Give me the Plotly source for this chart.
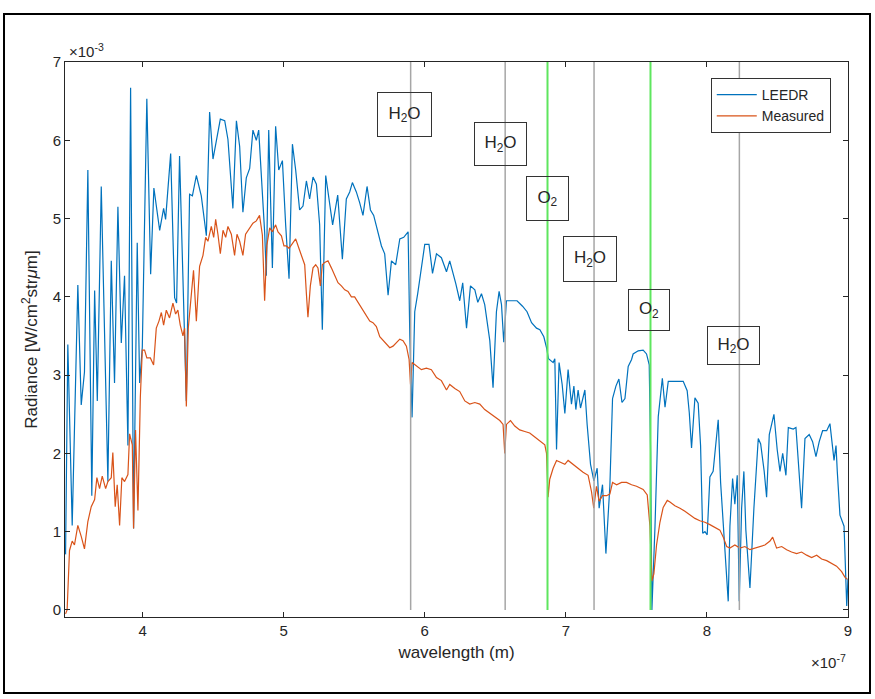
import plotly.graph_objects as go

# Wavelength in nm, radiance in 1e-3 W/cm^2/sr/um
leedr_wl = [345.4, 347.0, 350.1, 354.1, 356.5, 358.8, 361.2, 364.0, 366.0, 367.9, 370.7, 375.4, 377.8, 380.1,
            382.5, 384.9, 387.2, 389.6, 391.5, 393.6, 396.2, 397.9, 399.8, 403.0, 405.7, 408.0, 412.1, 414.9,
            416.3, 419.9, 422.7, 424.1, 426.2, 431.0, 433.3, 435.3, 438.1, 441.6, 445.2, 447.5, 449.9, 452.3,
            455.1, 458.2, 460.5, 464.0, 466.5, 468.8, 471.1, 473.5, 475.9, 478.2, 480.6, 482.3, 486.5, 487.7,
            489.4, 492.0, 494.3, 496.5, 499.1, 501.4, 503.8, 506.2, 508.5, 511.3, 513.7, 516.1, 518.4, 520.8,
            523.2, 525.5, 527.4, 529.8, 532.6, 534.7, 538.3, 541.6, 544.4, 546.8, 548.7, 551.5, 553.9, 556.2,
            559.1, 561.5, 563.8, 566.7, 569.3, 571.6, 574.0, 576.4, 579.4, 582.3, 585.1, 588.2, 589.4, 591.0,
            592.9, 595.0, 597.0, 600.0, 603.0, 605.5, 608.3, 611.8, 615.4, 617.7, 622.0, 624.8, 626.9, 629.6,
            632.4, 635.5, 637.6, 640.2, 642.5, 646.1, 648.4, 650.8, 652.7, 654.4, 656.0, 657.9, 661.5, 665.4,
            669.3, 672.5, 675.7, 679.2, 681.6, 684.4, 686.3, 687.7, 691.0, 692.2, 693.4, 695.2, 697.4, 699.3,
            701.6, 704.0, 705.7, 707.1, 708.7, 710.4, 713.5, 715.1, 717.5, 719.9, 722.2, 723.6, 726.0, 728.4,
            731.2, 733.1, 735.5, 737.6, 739.8, 741.9, 744.2, 746.6, 747.7, 751.3, 754.8, 757.2, 759.1, 760.1,
            761.0, 763.2, 765.5, 768.4, 770.3, 772.6, 776.2, 779.8, 783.2, 786.0, 787.5, 789.1, 791.5, 793.8,
            795.5, 797.0, 798.6, 800.2, 802.1, 804.4, 808.0, 809.7, 812.7, 815.1, 816.3, 818.2, 819.8, 821.5,
            822.9, 824.6, 826.2, 827.6, 830.5, 833.3, 836.4, 838.1, 840.6, 842.3, 844.2, 847.5, 849.8, 851.8,
            853.7, 856.0, 857.7, 861.2, 863.1, 865.5, 867.1, 869.5, 872.5, 874.9, 877.3, 879.6, 882.0, 884.9,
            887.2, 890.1, 891.5, 892.4, 894.3, 897.2, 899.1, 900.0]
leedr_rad = [0.71, 3.39, 1.08, 4.15, 2.62, 3.04, 5.62, 1.46, 4.08, 2.67, 5.41, 1.64, 4.46, 2.9,
             5.15, 3.41, 4.27, 2.1, 6.67, 1.04, 4.69, 2.9, 3.36, 6.53, 4.29, 5.39, 4.85, 5.13,
             4.99, 5.83, 3.99, 3.92, 5.8, 2.67, 5.31, 5.29, 5.55, 5.29, 4.78, 6.36, 5.76, 6.01,
             6.27, 6.25, 6.01, 5.13, 6.25, 5.92, 5.08, 5.52, 5.64, 6.13, 6.0, 6.13, 4.83, 4.27,
             6.13, 4.37, 6.18, 5.62, 5.74, 4.92, 4.23, 5.95, 5.62, 5.11, 5.16, 5.48, 5.25, 5.53,
             5.44, 4.92, 3.58, 5.55, 5.2, 4.92, 5.3, 4.48, 5.25, 5.34, 5.46, 5.34, 5.2, 5.04,
             5.41, 5.11, 5.04, 4.83, 4.65, 4.55, 4.02, 4.46, 4.41, 4.74, 4.76, 4.83, 3.5, 2.46,
             3.81, 4.04, 4.28, 4.67, 4.67, 4.3, 4.55, 4.5, 4.32, 4.46, 4.17, 3.95, 4.18, 3.6,
             4.14, 4.09, 3.93, 4.04, 3.9, 3.44, 2.84, 3.81, 4.07, 3.9, 3.42, 3.95, 3.95, 3.95,
             3.88, 3.81, 3.67, 3.6, 3.58, 3.49, 3.35, 3.21, 3.16, 3.21, 2.05, 3.16, 2.88, 2.51,
             3.07, 2.63, 2.86, 2.56, 2.81, 2.58, 2.81, 2.37, 1.86, 1.65, 1.81, 1.3, 1.6, 0.72,
             1.58, 2.7, 2.86, 2.95, 2.65, 2.7, 3.11, 3.2, 3.27, 3.31, 3.32, 3.27, 3.13, 2.0,
             0.0, 1.07, 2.47, 2.96, 2.59, 2.92, 2.92, 2.92, 2.92, 2.8, 2.52, 2.07, 2.71, 2.64,
             2.1, 0.98, 1.0, 0.96, 1.7, 1.77, 2.43, 1.63, 0.84, 0.11, 1.07, 1.68, 1.35, 1.72,
             0.11, 1.3, 1.77, 1.02, 0.28, 1.3, 2.19, 2.12, 1.77, 1.44, 2.24, 2.5, 2.05, 1.77,
             2.0, 1.72, 2.33, 2.31, 2.33, 1.77, 1.3, 2.19, 2.24, 2.15, 1.96, 2.15, 2.29, 2.29,
             2.38, 1.91, 2.1, 1.77, 1.21, 1.07, 0.05, 0.4]

meas_wl = [345.4, 346.5, 348.2, 350.1, 351.7, 354.1, 356.5, 358.8, 361.2, 363.6, 366.0, 367.6, 369.5, 371.4,
           373.8, 375.4, 377.8, 378.9, 380.6, 382.0, 383.7, 385.3, 387.2, 389.6, 390.8, 392.7, 393.6, 395.0,
           396.7, 398.4, 399.8, 401.4, 403.0, 405.5, 407.8, 409.7, 411.6, 413.3, 414.9, 416.8, 419.1, 421.5,
           423.4, 425.0, 426.7, 428.6, 429.8, 431.0, 432.4, 434.5, 436.1, 438.1, 440.4, 442.8, 444.7, 446.3,
           448.7, 450.4, 451.8, 453.4, 455.1, 457.0, 458.9, 460.5, 462.9, 465.2, 466.9, 468.8, 471.1, 473.0,
           475.9, 478.2, 480.6, 482.9, 484.9, 486.5, 488.1, 490.1, 492.0, 494.3, 496.0, 498.4, 500.2, 501.9,
           503.8, 506.2, 508.5, 510.8, 513.3, 514.9, 516.1, 517.2, 518.9, 520.8, 522.7, 524.3, 526.0, 527.4,
           529.1, 531.4, 533.8, 536.2, 538.5, 540.9, 543.3, 545.6, 548.0, 550.3, 552.7, 556.2, 558.6, 561.0,
           563.3, 565.7, 568.1, 570.4, 572.8, 575.2, 577.5, 579.9, 582.3, 584.6, 587.0, 588.9, 589.9, 591.0,
           594.1, 597.6, 601.2, 604.7, 608.3, 611.8, 615.4, 617.7, 621.3, 624.8, 628.4, 631.9, 635.5, 639.0,
           642.5, 646.1, 649.6, 653.2, 655.5, 656.7, 657.9, 660.8, 663.8, 667.3, 670.9, 674.4, 678.0, 681.5,
           685.1, 686.3, 687.4, 688.6, 691.0, 693.4, 696.9, 699.3, 701.6, 705.1, 708.7, 712.2, 715.8, 718.2,
           719.8, 721.7, 723.6, 726.0, 728.8, 731.2, 733.1, 736.0, 739.5, 743.0, 746.6, 750.1, 754.8, 757.7,
           759.6, 761.0, 762.4, 764.3, 766.7, 769.0, 771.9, 773.8, 777.3, 780.9, 784.4, 788.0, 791.5, 795.0,
           798.6, 802.1, 805.7, 809.2, 811.6, 814.0, 816.3, 819.8, 823.4, 826.9, 830.5, 834.0, 837.6, 841.1,
           844.7, 846.6, 849.4, 853.0, 856.5, 860.0, 863.6, 867.1, 870.7, 874.2, 877.8, 881.3, 884.9, 888.4,
           891.9, 895.5, 897.8, 899.5]
meas_rad = [-0.05, 0.0, 0.76, 0.88, 0.83, 1.08, 0.94, 0.78, 1.13, 1.32, 1.41, 1.69, 1.55, 1.71,
            1.55, 1.64, 1.69, 2.01, 1.32, 1.6, 1.08, 1.69, 1.64, 1.73, 2.25, 2.11, 1.04, 2.3,
            1.27, 2.72, 3.32, 3.32, 3.22, 3.22, 3.13, 3.6, 3.69, 3.8, 3.64, 3.83, 3.73, 3.92,
            3.78, 3.83, 3.64, 3.5, 3.6, 2.6, 3.6, 3.97, 4.34, 3.69, 4.39, 4.53, 4.76, 4.71,
            4.9, 4.76, 4.99, 4.8, 4.55, 4.85, 4.76, 4.9, 4.8, 4.53, 4.8, 4.71, 4.53, 4.8,
            4.88, 4.94, 4.97, 5.04, 4.79, 3.95, 4.66, 4.88, 4.83, 4.92, 4.83, 4.78, 4.65, 4.65,
            4.62, 4.69, 4.74, 4.62, 4.48, 4.41, 4.04, 3.74, 4.14, 4.37, 4.41, 4.37, 4.14, 4.41,
            4.44, 4.46, 4.37, 4.27, 4.18, 4.14, 4.09, 4.07, 4.0, 4.0, 3.93, 3.83, 3.76, 3.69,
            3.67, 3.62, 3.49, 3.44, 3.39, 3.35, 3.37, 3.41, 3.46, 3.44, 3.37, 3.2, 2.88, 3.16,
            3.12, 3.07, 3.09, 3.07, 2.97, 2.93, 2.81, 2.88, 2.83, 2.79, 2.67, 2.63, 2.65, 2.63,
            2.56, 2.51, 2.46, 2.42, 2.37, 2.0, 2.37, 2.42, 2.35, 2.3, 2.28, 2.26, 2.21, 2.16,
            2.11, 2.0, 1.44, 1.67, 1.81, 1.91, 1.88, 1.86, 1.91, 1.86, 1.81, 1.76, 1.72, 1.51,
            1.3, 1.58, 1.39, 1.46, 1.46, 1.48, 1.63, 1.6, 1.63, 1.63, 1.6, 1.58, 1.54, 1.47,
            1.07, 0.37, 0.46, 0.83, 1.12, 1.31, 1.4, 1.38, 1.33, 1.3, 1.26, 1.21, 1.17, 1.14,
            1.12, 1.09, 1.05, 1.02, 0.93, 0.81, 0.79, 0.83, 0.79, 0.81, 0.77, 0.79, 0.81, 0.83,
            0.88, 0.93, 0.79, 0.81, 0.77, 0.74, 0.72, 0.74, 0.7, 0.67, 0.7, 0.65, 0.63, 0.6,
            0.56, 0.49, 0.42, 0.39]

# Absorption band markers (nm)
line_wl = [590, 657, 687, 720, 760, 823]
line_kind = ["H2O", "H2O", "O2", "H2O", "O2", "H2O"]
label_wl = [585.8, 653.9, 687.2, 717.0, 758.9, 819.1]
label_rad = [6.33, 5.95, 5.25, 4.48, 3.83, 3.38]
label_text = ["H<sub>2</sub>O", "H<sub>2</sub>O", "O<sub>2</sub>", "H<sub>2</sub>O", "O<sub>2</sub>", "H<sub>2</sub>O"]
label_w = [53, 51, 41, 52, 40, 51]
label_h = [43, 42, 43, 44, 40, 37]

x_ticks = [4, 5, 6, 7, 8, 9]
y_ticks = [0, 1, 2, 3, 4, 5, 6, 7]

FONT = "Liberation Sans, Arial, Helvetica, sans-serif"
AXC = "#262626"

fig = go.Figure()
fig.add_trace(go.Scatter(x=[w / 100 for w in leedr_wl], y=leedr_rad, mode="lines", name="LEEDR",
                         line=dict(color="#0072BD", width=1.2)))
fig.add_trace(go.Scatter(x=[w / 100 for w in meas_wl], y=meas_rad, mode="lines", name="Measured",
                         line=dict(color="#D95319", width=1.2)))

shapes = []
for w, k in zip(line_wl, line_kind):
    if k == "O2":
        shapes.append(dict(type="line", xref="x", yref="y", x0=w / 100, x1=w / 100, y0=0, y1=7,
                           line=dict(color="#5EE65E", width=2), layer="above"))
    else:
        shapes.append(dict(type="line", xref="x", yref="y", x0=w / 100, x1=w / 100, y0=0, y1=7,
                           line=dict(color="#A6A6A6", width=1.5), layer="above"))
# outer figure frame
shapes.append(dict(type="rect", xref="paper", yref="paper", x0=-0.0779, x1=1.0281, y0=-0.1369, y1=1.0865,
                   line=dict(color="black", width=2), fillcolor="rgba(0,0,0,0)"))

annotations = []
for lx, ly, t, bw, bh in zip(label_wl, label_rad, label_text, label_w, label_h):
    annotations.append(dict(x=lx / 100, y=ly, xref="x", yref="y", text=t, showarrow=False,
                            font=dict(family=FONT, size=17, color=AXC), width=bw, height=bh,
                            align="center", valign="middle", bordercolor="#333333", borderwidth=1,
                            borderpad=0, bgcolor="rgba(0,0,0,0)"))
annotations.append(dict(x=0.002, y=1.0, xref="paper", yref="paper", xanchor="left", yanchor="bottom",
                        text="\u00d710<sup>-3</sup>", showarrow=False, font=dict(family=FONT, size=15, color=AXC)))
annotations.append(dict(x=1.0, y=-0.06, xref="paper", yref="paper", xanchor="right", yanchor="top",
                        text="\u00d710<sup>-7</sup>", showarrow=False, font=dict(family=FONT, size=15, color=AXC)))

fig.update_layout(
    width=875, height=699,
    margin=dict(l=65, r=27, t=62, b=82),
    paper_bgcolor="white", plot_bgcolor="white",
    font=dict(family=FONT, color=AXC),
    shapes=shapes, annotations=annotations,
    showlegend=True,
    legend=dict(x=0.978, y=0.971, xanchor="right", yanchor="top", bgcolor="white",
                bordercolor="#333333", borderwidth=1, font=dict(family=FONT, size=14, color=AXC),
                tracegroupgap=0, itemwidth=40),
    xaxis=dict(range=[3.45, 9.0], tickvals=x_ticks, ticktext=[str(v) for v in x_ticks], ticks="inside",
               ticklen=5, tickcolor=AXC, showline=True, linecolor=AXC, linewidth=1, mirror="ticks",
               showgrid=False, zeroline=False, tickfont=dict(size=15, color=AXC),
               title=dict(text="wavelength (m)", font=dict(size=17, color=AXC), standoff=8)),
    yaxis=dict(range=[-0.09, 7.0], tickvals=y_ticks, ticktext=[str(v) for v in y_ticks], ticks="inside",
               ticklen=5, tickcolor=AXC, showline=True, linecolor=AXC, linewidth=1, mirror="ticks",
               showgrid=False, zeroline=False, tickfont=dict(size=15, color=AXC),
               title=dict(text="Radiance [W/cm<sup>2</sup>str<i>\u03bc</i>m]", font=dict(size=17, color=AXC),
                          standoff=10)),
)

fig.write_html("out.html")
